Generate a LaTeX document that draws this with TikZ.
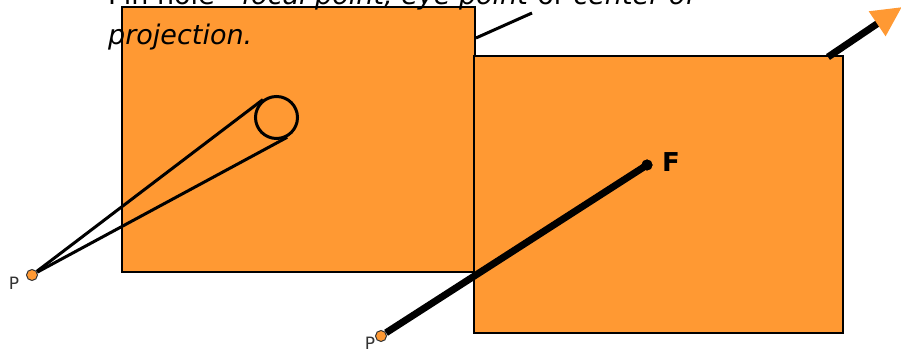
\documentclass[tikz,border=0pt]{standalone}
\usepackage{fontspec}
\setmainfont{DejaVu Sans}
\usetikzlibrary{arrows.meta,calc}
\definecolor{ppOrange}{HTML}{FF9933}
\definecolor{ppInk}{HTML}{333333}
\tikzset{
  screenBox/.style={draw=black, fill=ppOrange, line width=1.2pt},
  eyeDot/.style={circle, draw=ppInk, fill=ppOrange, line width=1pt, minimum size=11pt, inner sep=0pt},
  focusDot/.style={circle, fill=black, minimum size=11pt, inner sep=0pt},
  pinHole/.style={circle, draw=black, line width=3pt, minimum size=42pt, inner sep=0pt},
  rayThin/.style={draw=black, line width=3pt},
  rayThick/.style={draw=black, line width=7pt},
  outArrow/.style={draw=black, line width=7pt, -{Triangle[length=30pt, width=28pt, color=ppOrange]}},
  bulletText/.style={font=\fontsize{27}{40}\selectfont, anchor=base west, inner sep=0pt},
  pointLabel/.style={font=\fontsize{17}{17}\selectfont, text=ppInk, inner sep=0pt}
}
\begin{document}
\begin{tikzpicture}[x=1pt,y=-1pt]
  \useasboundingbox (0,0) rectangle (901,352);
  \clip (0,0) rectangle (901,352);
  % the two image planes
  \filldraw[screenBox] (122,7) rectangle (475,272);
  \filldraw[screenBox] (474,56) rectangle (843,333);
  % bullet text
  \node[bulletText] (dot) at (72,5) {•};
  \node[bulletText] (lineA) at (108,5) {Pin hole - \textit{focal point, eye point} or \textit{center of}};
  \node[bulletText] (lineB) at (108,45) {\textit{projection.}};
  \coordinate (edgeA) at (476,38);
  \coordinate (edgeB) at (532,13);
  \draw[rayThin] (edgeA) -- (edgeB);
  % pin hole camera
  \node[pinHole] (pin) at (276.5,117.5) {};
  \node[eyeDot] (eyeA) at (32,275) {};
  \node[pointLabel] (labelA) at (14,283) {P};
  \draw[rayThin] (eyeA) -- (tangent cs:node=pin,point={(eyeA)},solution=1);
  \draw[rayThin] (eyeA) -- (tangent cs:node=pin,point={(eyeA)},solution=2);
  % focal point
  \node[focusDot] (focus) at (647,165) {};
  \node[font=\bfseries\fontsize{26}{26}\selectfont, anchor=base west, inner sep=0pt] (labelF) at (662,172) {F};
  \node[eyeDot] (eyeB) at (381,336) {};
  \node[pointLabel, anchor=north] (labelB) at (370,337) {P};
  \draw[rayThick] (eyeB) -- (focus.center);
  \node[focusDot] at (focus) {};
  % direction arrow
  \coordinate (arrowFoot) at (828,57);
  \coordinate (arrowTip) at (902,7);
  \draw[outArrow] (arrowFoot) -- (arrowTip);
\end{tikzpicture}
\end{document}
